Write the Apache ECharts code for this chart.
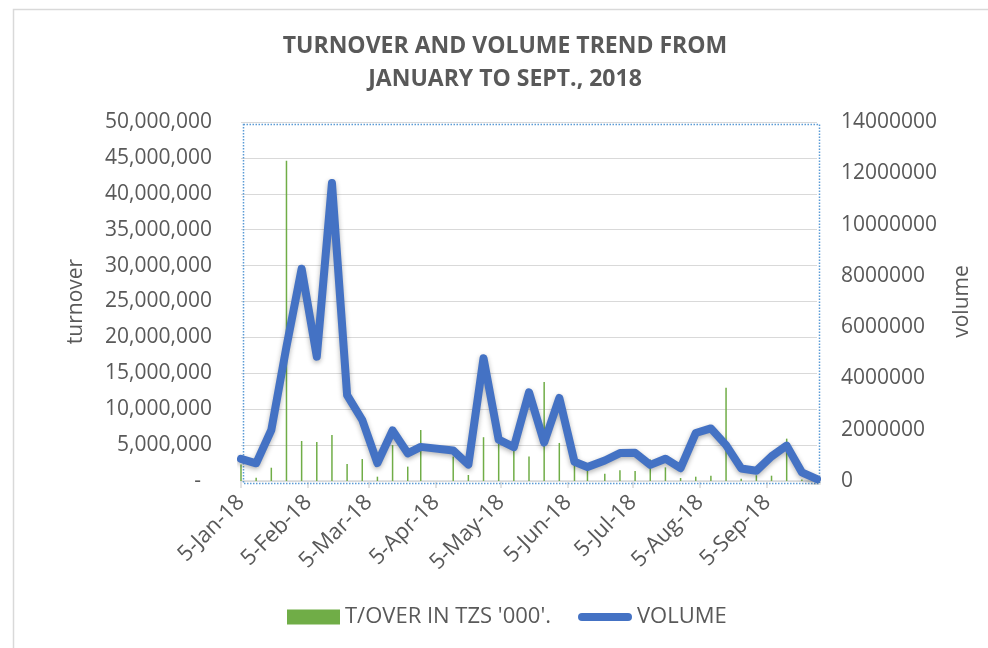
<!DOCTYPE html>
<html><head><meta charset="utf-8">
<script src="https://cdn.jsdelivr.net/npm/echarts@6/dist/echarts.min.js"></script>
<style>html,body{margin:0;padding:0;background:#fff}#c{width:988px;height:648px}</style>
</head><body><div id="c"></div>
<script>
const dates = ['2018-01-05','2018-01-12','2018-01-19','2018-01-26','2018-02-02','2018-02-09','2018-02-16','2018-02-23','2018-03-02','2018-03-09','2018-03-16','2018-03-23','2018-03-29','2018-04-13','2018-04-20','2018-04-27','2018-05-04','2018-05-11','2018-05-18','2018-05-25','2018-06-01','2018-06-08','2018-06-14','2018-06-22','2018-06-29','2018-07-06','2018-07-13','2018-07-20','2018-07-27','2018-08-03','2018-08-10','2018-08-17','2018-08-24','2018-08-31','2018-09-07','2018-09-14','2018-09-21','2018-09-28'];
const turnover = [2300000,460000,1850000,44600000,5570000,5430000,6400000,2370000,3060000,600000,5000000,2000000,7100000,3400000,840000,6100000,5200000,4350000,3400000,13800000,5300000,2200000,1500000,1000000,1500000,1400000,3000000,1900000,420000,600000,740000,13000000,330000,800000,740000,5900000,200000,100000];
const volume = [860000,690000,1990000,5240000,8280000,4850000,11620000,3350000,2380000,700000,1970000,1080000,1330000,1190000,640000,4790000,1610000,1320000,3460000,1500000,3240000,750000,545000,800000,1090000,1100000,630000,870000,500000,1870000,2050000,1400000,490000,400000,960000,1380000,340000,70000];
const xTickDates = ['2018-01-05','2018-02-05','2018-03-05','2018-04-05','2018-05-05','2018-06-05','2018-07-05','2018-08-05','2018-09-05'];
const xTickLabels = ['5-Jan-18','5-Feb-18','5-Mar-18','5-Apr-18','5-May-18','5-Jun-18','5-Jul-18','5-Aug-18','5-Sep-18'];
const seriesNames = ["T/OVER IN TZS '000'.", 'VOLUME'];
const axisNames = ['turnover', 'volume'];
const titleText = 'TURNOVER AND VOLUME TREND FROM\nJANUARY TO SEPT., 2018';

const GRID = {left: 241, top: 122, right: 171, bottom: 167};
const W = 988, H = 648;
const TXT = '#595959';
const FONT = 'Open Sans';

const DAY = 86400000;
const tp = s => { const p = s.split('-').map(Number); return Date.UTC(p[0], p[1] - 1, p[2]) / DAY; };
const tickVals = xTickDates.map(tp);

const chart = echarts.init(document.getElementById('c'), null, {renderer: 'canvas'});
chart.setOption({
  animation: false,
  backgroundColor: '#fff',
  textStyle: {fontFamily: FONT},
  title: {
    text: titleText, left: 500, top: 25, textAlign: 'center',
    textStyle: {fontFamily: FONT, fontSize: 23, fontWeight: 'bold', color: TXT, lineHeight: 33}
  },
  grid: {left: GRID.left, top: GRID.top, right: GRID.right, bottom: GRID.bottom, outerBoundsMode: 'none', containLabel: false},
  legend: [
    {data: [{name: seriesNames[0], icon: 'rect'}], left: 287, top: 606, padding: 0, itemWidth: 53, itemHeight: 15,
     textStyle: {fontFamily: FONT, fontSize: 22, color: TXT}},
    {data: [{name: seriesNames[1], icon: 'path://M4,0L50,0A4,4,0,0,1,50,8L4,8A4,4,0,0,1,4,0Z'}], left: 578, top: 606, padding: 0, itemWidth: 54, itemHeight: 15,
     textStyle: {fontFamily: FONT, fontSize: 22, color: TXT}}
  ],
  xAxis: {
    type: 'value', min: tp(dates[0]), max: tp(dates[dates.length - 1]),
    axisLine: {show: true, onZero: false, lineStyle: {color: '#d9d9d9', width: 1.5}},
    axisTick: {show: true, customValues: tickVals, length: 7, lineStyle: {color: '#d9d9d9', width: 1.5}},
    axisLabel: {customValues: tickVals, rotate: 45, margin: 18, fontSize: 22, color: TXT, fontFamily: FONT,
      formatter: v => { const i = tickVals.indexOf(v); return i >= 0 ? xTickLabels[i] : ''; }},
    splitLine: {show: false}
  },
  yAxis: [
    {type: 'value', min: 0, max: 50000000, interval: 5000000, position: 'left',
     name: axisNames[0], nameLocation: 'middle', nameGap: 154,
     nameTextStyle: {fontSize: 21, color: TXT, fontFamily: FONT},
     axisLine: {show: false}, axisTick: {show: false},
     axisLabel: {fontSize: 21, color: TXT, margin: 29, fontFamily: FONT,
       formatter: v => v === 0 ? '-  ' : v.toLocaleString('en-US')},
     splitLine: {show: true, lineStyle: {color: '#d9d9d9', width: 1.2}}},
    {type: 'value', min: 0, max: 14000000, interval: 2000000, position: 'right',
     name: axisNames[1], nameLocation: 'middle', nameGap: 135,
     nameTextStyle: {fontSize: 21, color: TXT, fontFamily: FONT},
     axisLine: {show: false}, axisTick: {show: false},
     axisLabel: {fontSize: 21, color: TXT, margin: 24, fontFamily: FONT, formatter: v => String(v)},
     splitLine: {show: false}}
  ],
  graphic: [
    {type: 'rect', left: 11, top: 7, z: -10, silent: true,
     shape: {width: 1100, height: 800}, style: {fill: null, stroke: '#d9d9d9', lineWidth: 1.5}},
    {type: 'rect', left: GRID.left, top: GRID.top, z: 1, silent: true,
     shape: {width: W - GRID.left - GRID.right, height: H - GRID.top - GRID.bottom},
     style: {fill: null, stroke: '#5B9BD5', lineWidth: 1.5, lineDash: [1.5, 1.5]}}
  ],
  series: [
    {name: seriesNames[0], type: 'bar', xAxisIndex: 0, yAxisIndex: 0, barWidth: 1.5,
     itemStyle: {color: '#70AD47'},
     data: dates.map((d, i) => [tp(d), turnover[i]])},
    {name: seriesNames[1], type: 'line', xAxisIndex: 0, yAxisIndex: 1,
     showSymbol: false, symbol: 'none', itemStyle: {color: '#4472C4'},
     lineStyle: {color: '#4472C4', width: 8, cap: 'round', join: 'round',
       shadowColor: 'rgba(0,0,0,0.3)', shadowBlur: 5, shadowOffsetY: 2},
     data: dates.map((d, i) => [tp(d), volume[i]])}
  ]
});
</script></body></html>
